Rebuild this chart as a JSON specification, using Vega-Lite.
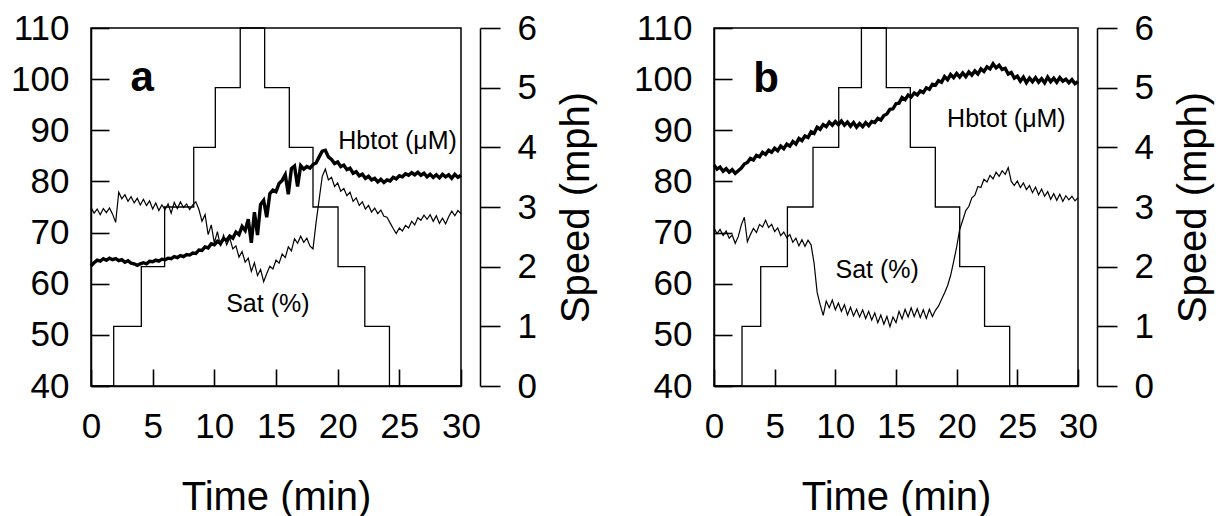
{
 "$schema": "https://vega.github.io/schema/vega-lite/v6.json",
 "padding": {"left": 9, "top": 10, "right": 5, "bottom": 5},
 "background": "white",
 "config": {
  "font": "Liberation Sans",
  "view": {"stroke": "black", "strokeWidth": 1.5},
  "axis": {"grid": false, "zindex": 1, "domainColor": "black", "tickColor": "black", "labelColor": "black", "titleColor": "black", "labelFontSize": 35, "titleFontSize": 40, "titleFontWeight": "normal", "domainWidth": 1.5, "tickWidth": 1.6, "labelFont": "Liberation Sans", "titleFont": "Liberation Sans", "labelFlush": false, "labelOverlap": false},
  "concat": {"spacing": 34}
 },
 "datasets": {
  "traces": [
   {"p":"a","t":0,"hb":63.5,"sat":74.9},{"p":"a","t":0.25,"hb":64.1,"sat":73.8},{"p":"a","t":0.5,"hb":64.6,"sat":74.6},{"p":"a","t":0.75,"hb":64.4,"sat":73.5},
   {"p":"a","t":1,"hb":64.9,"sat":74.7},{"p":"a","t":1.25,"hb":64.6,"sat":73.9},{"p":"a","t":1.5,"hb":65.0,"sat":74.8},{"p":"a","t":1.75,"hb":64.7,"sat":73.6},
   {"p":"a","t":2,"hb":64.9,"sat":72.0},{"p":"a","t":2.25,"hb":64.5,"sat":77.9},{"p":"a","t":2.5,"hb":64.7,"sat":76.6},{"p":"a","t":2.75,"hb":64.2,"sat":77.4},
   {"p":"a","t":3,"hb":64.5,"sat":76.1},{"p":"a","t":3.25,"hb":64.0,"sat":77.0},{"p":"a","t":3.5,"hb":63.9,"sat":75.8},{"p":"a","t":3.75,"hb":63.6,"sat":76.7},
   {"p":"a","t":4,"hb":63.9,"sat":75.4},{"p":"a","t":4.25,"hb":64.1,"sat":76.5},{"p":"a","t":4.5,"hb":63.9,"sat":75.3},{"p":"a","t":4.75,"hb":64.4,"sat":76.2},
   {"p":"a","t":5,"hb":64.3,"sat":74.6},{"p":"a","t":5.25,"hb":64.6,"sat":75.8},{"p":"a","t":5.5,"hb":64.4,"sat":74.3},{"p":"a","t":5.75,"hb":64.8,"sat":75.4},
   {"p":"a","t":6,"hb":64.7,"sat":74.5},{"p":"a","t":6.25,"hb":65.0,"sat":75.6},{"p":"a","t":6.5,"hb":64.9,"sat":73.8},{"p":"a","t":6.75,"hb":65.3,"sat":75.9},
   {"p":"a","t":7,"hb":65.1,"sat":74.7},{"p":"a","t":7.25,"hb":65.5,"sat":76.0},{"p":"a","t":7.5,"hb":65.3,"sat":74.9},{"p":"a","t":7.75,"hb":65.7,"sat":75.6},
   {"p":"a","t":8,"hb":65.6,"sat":74.5},{"p":"a","t":8.25,"hb":66.0,"sat":75.4},{"p":"a","t":8.5,"hb":65.9,"sat":76.0},{"p":"a","t":8.75,"hb":66.6,"sat":74.5},
   {"p":"a","t":9,"hb":66.5,"sat":72.2},{"p":"a","t":9.25,"hb":67.2,"sat":73.5},{"p":"a","t":9.5,"hb":67.0,"sat":69.6},{"p":"a","t":9.75,"hb":67.8,"sat":71.5},
   {"p":"a","t":10,"hb":67.6,"sat":68.0},{"p":"a","t":10.25,"hb":68.3,"sat":70.2},{"p":"a","t":10.5,"hb":67.9,"sat":67.3},{"p":"a","t":10.75,"hb":68.8,"sat":69.5},
   {"p":"a","t":11,"hb":68.5,"sat":67.6},{"p":"a","t":11.25,"hb":69.3,"sat":68.9},{"p":"a","t":11.5,"hb":68.9,"sat":66.8},{"p":"a","t":11.75,"hb":70.1,"sat":67.4},
   {"p":"a","t":12,"hb":69.6,"sat":65.2},{"p":"a","t":12.25,"hb":71.2,"sat":66.3},{"p":"a","t":12.5,"hb":70.4,"sat":64.2},{"p":"a","t":12.75,"hb":72.6,"sat":65.0},
   {"p":"a","t":13,"hb":68.0,"sat":62.4},{"p":"a","t":13.25,"hb":74.0,"sat":64.1},{"p":"a","t":13.5,"hb":69.5,"sat":61.6},{"p":"a","t":13.75,"hb":75.5,"sat":62.8},
   {"p":"a","t":14,"hb":76.3,"sat":60.4},{"p":"a","t":14.25,"hb":73.0,"sat":62.0},{"p":"a","t":14.5,"hb":77.6,"sat":63.4},{"p":"a","t":14.75,"hb":78.3,"sat":62.9},
   {"p":"a","t":15,"hb":78.0,"sat":64.6},{"p":"a","t":15.25,"hb":79.6,"sat":64.0},{"p":"a","t":15.5,"hb":80.2,"sat":65.8},{"p":"a","t":15.75,"hb":81.3,"sat":65.1},
   {"p":"a","t":16,"hb":77.5,"sat":67.2},{"p":"a","t":16.25,"hb":82.5,"sat":66.4},{"p":"a","t":16.5,"hb":83.0,"sat":68.8},{"p":"a","t":16.75,"hb":79.0,"sat":67.9},
   {"p":"a","t":17,"hb":83.1,"sat":69.3},{"p":"a","t":17.25,"hb":82.4,"sat":68.1},{"p":"a","t":17.5,"hb":82.9,"sat":68.9},{"p":"a","t":17.75,"hb":82.6,"sat":67.4},
   {"p":"a","t":18,"hb":83.3,"sat":66.8},{"p":"a","t":18.25,"hb":83.6,"sat":72.0},{"p":"a","t":18.5,"hb":84.8,"sat":76.5},{"p":"a","t":18.75,"hb":85.9,"sat":81.0},
   {"p":"a","t":19,"hb":86.1,"sat":82.4},{"p":"a","t":19.25,"hb":84.8,"sat":80.3},{"p":"a","t":19.5,"hb":84.3,"sat":80.8},{"p":"a","t":19.75,"hb":83.5,"sat":79.0},
   {"p":"a","t":20,"hb":83.8,"sat":79.7},{"p":"a","t":20.25,"hb":82.9,"sat":78.1},{"p":"a","t":20.5,"hb":83.2,"sat":78.6},{"p":"a","t":20.75,"hb":82.3,"sat":77.2},
   {"p":"a","t":21,"hb":82.6,"sat":77.9},{"p":"a","t":21.25,"hb":81.6,"sat":76.1},{"p":"a","t":21.5,"hb":81.9,"sat":76.8},{"p":"a","t":21.75,"hb":81.1,"sat":75.3},
   {"p":"a","t":22,"hb":81.4,"sat":76.0},{"p":"a","t":22.25,"hb":80.6,"sat":74.6},{"p":"a","t":22.5,"hb":81.0,"sat":75.3},{"p":"a","t":22.75,"hb":80.3,"sat":74.0},
   {"p":"a","t":23,"hb":80.6,"sat":74.8},{"p":"a","t":23.25,"hb":79.9,"sat":73.7},{"p":"a","t":23.5,"hb":80.4,"sat":74.4},{"p":"a","t":23.75,"hb":79.8,"sat":73.2},
   {"p":"a","t":24,"hb":80.3,"sat":73.0},{"p":"a","t":24.25,"hb":80.1,"sat":71.9},{"p":"a","t":24.5,"hb":80.8,"sat":70.8},{"p":"a","t":24.75,"hb":80.5,"sat":69.8},
   {"p":"a","t":25,"hb":81.1,"sat":70.9},{"p":"a","t":25.25,"hb":80.9,"sat":70.3},{"p":"a","t":25.5,"hb":81.5,"sat":71.4},{"p":"a","t":25.75,"hb":81.2,"sat":70.9},
   {"p":"a","t":26,"hb":81.7,"sat":72.2},{"p":"a","t":26.25,"hb":81.3,"sat":71.5},{"p":"a","t":26.5,"hb":81.8,"sat":72.9},{"p":"a","t":26.75,"hb":81.2,"sat":72.4},
   {"p":"a","t":27,"hb":81.6,"sat":73.4},{"p":"a","t":27.25,"hb":80.9,"sat":72.6},{"p":"a","t":27.5,"hb":81.4,"sat":73.5},{"p":"a","t":27.75,"hb":80.8,"sat":72.2},
   {"p":"a","t":28,"hb":81.3,"sat":73.3},{"p":"a","t":28.25,"hb":80.7,"sat":71.8},{"p":"a","t":28.5,"hb":81.4,"sat":72.8},{"p":"a","t":28.75,"hb":80.9,"sat":71.7},
   {"p":"a","t":29,"hb":81.3,"sat":73.1},{"p":"a","t":29.25,"hb":80.6,"sat":74.2},{"p":"a","t":29.5,"hb":81.4,"sat":73.3},{"p":"a","t":29.75,"hb":80.8,"sat":74.3},
   {"p":"a","t":30,"hb":81.2,"sat":73.7},
   {"p":"b","t":0,"hb":83.2,"sat":70.9},{"p":"b","t":0.25,"hb":82.4,"sat":69.8},{"p":"b","t":0.5,"hb":82.8,"sat":70.6},{"p":"b","t":0.75,"hb":82.0,"sat":69.4},
   {"p":"b","t":1,"hb":82.5,"sat":70.3},{"p":"b","t":1.25,"hb":81.8,"sat":68.9},{"p":"b","t":1.5,"hb":82.3,"sat":69.5},{"p":"b","t":1.75,"hb":81.6,"sat":67.9},
   {"p":"b","t":2,"hb":82.1,"sat":69.2},{"p":"b","t":2.25,"hb":82.6,"sat":71.5},{"p":"b","t":2.5,"hb":83.4,"sat":73.0},{"p":"b","t":2.75,"hb":83.7,"sat":68.2},
   {"p":"b","t":3,"hb":84.5,"sat":69.6},{"p":"b","t":3.25,"hb":84.2,"sat":70.8},{"p":"b","t":3.5,"hb":85.1,"sat":70.0},{"p":"b","t":3.75,"hb":84.8,"sat":71.6},
   {"p":"b","t":4,"hb":85.7,"sat":71.1},{"p":"b","t":4.25,"hb":85.3,"sat":72.4},{"p":"b","t":4.5,"hb":86.1,"sat":71.0},{"p":"b","t":4.75,"hb":85.7,"sat":71.6},
   {"p":"b","t":5,"hb":86.5,"sat":70.2},{"p":"b","t":5.25,"hb":86.0,"sat":70.9},{"p":"b","t":5.5,"hb":86.9,"sat":69.4},{"p":"b","t":5.75,"hb":86.4,"sat":70.1},
   {"p":"b","t":6,"hb":87.3,"sat":69.0},{"p":"b","t":6.25,"hb":86.9,"sat":69.6},{"p":"b","t":6.5,"hb":87.8,"sat":68.1},{"p":"b","t":6.75,"hb":87.3,"sat":68.9},
   {"p":"b","t":7,"hb":88.4,"sat":67.4},{"p":"b","t":7.25,"hb":88.0,"sat":68.6},{"p":"b","t":7.5,"hb":88.9,"sat":67.3},{"p":"b","t":7.75,"hb":88.6,"sat":68.5},
   {"p":"b","t":8,"hb":89.7,"sat":67.6},{"p":"b","t":8.25,"hb":89.4,"sat":64.0},{"p":"b","t":8.5,"hb":90.6,"sat":58.3},{"p":"b","t":8.75,"hb":90.2,"sat":55.9},
   {"p":"b","t":9,"hb":91.1,"sat":53.8},{"p":"b","t":9.25,"hb":90.7,"sat":56.6},{"p":"b","t":9.5,"hb":91.6,"sat":55.3},{"p":"b","t":9.75,"hb":91.0,"sat":56.8},
   {"p":"b","t":10,"hb":91.7,"sat":54.9},{"p":"b","t":10.25,"hb":91.1,"sat":56.2},{"p":"b","t":10.5,"hb":91.8,"sat":54.6},{"p":"b","t":10.75,"hb":91.0,"sat":55.9},
   {"p":"b","t":11,"hb":91.6,"sat":53.9},{"p":"b","t":11.25,"hb":90.8,"sat":55.4},{"p":"b","t":11.5,"hb":91.5,"sat":53.7},{"p":"b","t":11.75,"hb":90.6,"sat":55.0},
   {"p":"b","t":12,"hb":91.3,"sat":53.5},{"p":"b","t":12.25,"hb":90.7,"sat":54.9},{"p":"b","t":12.5,"hb":91.5,"sat":53.2},{"p":"b","t":12.75,"hb":90.9,"sat":54.6},
   {"p":"b","t":13,"hb":91.7,"sat":52.9},{"p":"b","t":13.25,"hb":91.5,"sat":54.3},{"p":"b","t":13.5,"hb":92.3,"sat":52.4},{"p":"b","t":13.75,"hb":92.0,"sat":53.9},
   {"p":"b","t":14,"hb":92.9,"sat":52.1},{"p":"b","t":14.25,"hb":93.2,"sat":53.6},{"p":"b","t":14.5,"hb":94.1,"sat":51.6},{"p":"b","t":14.75,"hb":94.2,"sat":53.5},
   {"p":"b","t":15,"hb":95.2,"sat":52.4},{"p":"b","t":15.25,"hb":95.3,"sat":54.6},{"p":"b","t":15.5,"hb":96.4,"sat":53.1},{"p":"b","t":15.75,"hb":96.0,"sat":55.0},
   {"p":"b","t":16,"hb":96.9,"sat":53.5},{"p":"b","t":16.25,"hb":96.5,"sat":55.3},{"p":"b","t":16.5,"hb":97.3,"sat":53.6},{"p":"b","t":16.75,"hb":96.9,"sat":55.1},
   {"p":"b","t":17,"hb":97.7,"sat":53.4},{"p":"b","t":17.25,"hb":97.4,"sat":54.9},{"p":"b","t":17.5,"hb":98.3,"sat":53.2},{"p":"b","t":17.75,"hb":98.0,"sat":55.0},
   {"p":"b","t":18,"hb":99.0,"sat":53.6},{"p":"b","t":18.25,"hb":98.8,"sat":54.8},{"p":"b","t":18.5,"hb":99.7,"sat":55.6},{"p":"b","t":18.75,"hb":99.4,"sat":56.9},
   {"p":"b","t":19,"hb":100.5,"sat":58.2},{"p":"b","t":19.25,"hb":99.9,"sat":59.6},{"p":"b","t":19.5,"hb":100.9,"sat":61.6},{"p":"b","t":19.75,"hb":100.3,"sat":64.3},
   {"p":"b","t":20,"hb":101.1,"sat":67.2},{"p":"b","t":20.25,"hb":100.4,"sat":70.6},{"p":"b","t":20.5,"hb":101.2,"sat":72.4},{"p":"b","t":20.75,"hb":100.5,"sat":74.3},
   {"p":"b","t":21,"hb":101.4,"sat":75.1},{"p":"b","t":21.25,"hb":100.8,"sat":76.8},{"p":"b","t":21.5,"hb":101.6,"sat":77.3},{"p":"b","t":21.75,"hb":101.0,"sat":79.0},
   {"p":"b","t":22,"hb":102.0,"sat":78.8},{"p":"b","t":22.25,"hb":101.5,"sat":80.4},{"p":"b","t":22.5,"hb":102.4,"sat":79.9},{"p":"b","t":22.75,"hb":102.0,"sat":81.2},
   {"p":"b","t":23,"hb":103.0,"sat":80.5},{"p":"b","t":23.25,"hb":102.2,"sat":81.8},{"p":"b","t":23.5,"hb":102.7,"sat":81.0},{"p":"b","t":23.75,"hb":101.9,"sat":82.1},
   {"p":"b","t":24,"hb":102.1,"sat":81.4},{"p":"b","t":24.25,"hb":101.0,"sat":82.7},{"p":"b","t":24.5,"hb":101.3,"sat":80.0},{"p":"b","t":24.75,"hb":100.2,"sat":79.2},
   {"p":"b","t":25,"hb":100.6,"sat":80.1},{"p":"b","t":25.25,"hb":99.6,"sat":78.8},{"p":"b","t":25.5,"hb":100.4,"sat":79.7},{"p":"b","t":25.75,"hb":99.3,"sat":78.4},
   {"p":"b","t":26,"hb":100.2,"sat":79.2},{"p":"b","t":26.25,"hb":99.5,"sat":77.8},{"p":"b","t":26.5,"hb":100.3,"sat":78.9},{"p":"b","t":26.75,"hb":99.4,"sat":77.4},
   {"p":"b","t":27,"hb":100.1,"sat":78.5},{"p":"b","t":27.25,"hb":99.3,"sat":77.1},{"p":"b","t":27.5,"hb":100.4,"sat":78.0},{"p":"b","t":27.75,"hb":99.5,"sat":76.5},
   {"p":"b","t":28,"hb":100.2,"sat":77.6},{"p":"b","t":28.25,"hb":99.4,"sat":76.3},{"p":"b","t":28.5,"hb":100.3,"sat":77.5},{"p":"b","t":28.75,"hb":99.6,"sat":76.1},
   {"p":"b","t":29,"hb":100.0,"sat":77.2},{"p":"b","t":29.25,"hb":99.3,"sat":76.4},{"p":"b","t":29.5,"hb":99.9,"sat":77.1},{"p":"b","t":29.75,"hb":99.1,"sat":76.2},
   {"p":"b","t":30,"hb":99.5,"sat":76.8}
  ],
  "speed": [
   {"p":"a","t":0,"s":0},{"p":"a","t":1.84,"s":1},{"p":"a","t":4.08,"s":2},{"p":"a","t":5.97,"s":3},{"p":"a","t":8.33,"s":4},{"p":"a","t":10.08,"s":5},{"p":"a","t":12.1,"s":6},{"p":"a","t":14.08,"s":5},{"p":"a","t":16.08,"s":4},{"p":"a","t":18.0,"s":3},{"p":"a","t":20.03,"s":2},{"p":"a","t":22.2,"s":1},{"p":"a","t":24.2,"s":0},{"p":"a","t":30,"s":0},
   {"p":"b","t":0,"s":0},{"p":"b","t":2.31,"s":1},{"p":"b","t":3.85,"s":2},{"p":"b","t":6.05,"s":3},{"p":"b","t":8.16,"s":4},{"p":"b","t":10.28,"s":5},{"p":"b","t":12.15,"s":6},{"p":"b","t":14.2,"s":5},{"p":"b","t":16.18,"s":4},{"p":"b","t":18.24,"s":3},{"p":"b","t":20.25,"s":2},{"p":"b","t":22.3,"s":1},{"p":"b","t":24.37,"s":0},{"p":"b","t":30,"s":0}
  ],
  "labels": [
   {"p":"a","kind":"panel","label":"a","t":4.14,"v":97.7},
   {"p":"a","kind":"series","label":"Hbtot (μM)","t":24.86,"v":87.9},
   {"p":"a","kind":"series","label":"Sat (%)","t":14.34,"v":56.0},
   {"p":"b","kind":"panel","label":"b","t":4.29,"v":97.5},
   {"p":"b","kind":"series","label":"Hbtot (μM)","t":24.1,"v":92.2},
   {"p":"b","kind":"series","label":"Sat (%)","t":13.45,"v":62.6}
  ]
 },
 "hconcat": [
  {
   "width": 370, "height": 358,
   "encoding": {"x": {"field": "t", "type": "quantitative", "scale": {"domain": [0, 30], "nice": false, "zero": false}, "axis": {"values": [0,5,10,15,20,25,30], "tickSize": -17, "labelPadding": 40, "title": "Time (min)", "titlePadding": 33}}},
   "layer": [
    {"data": {"name": "traces"}, "transform": [{"filter": "datum.p === 'a'"}], "mark": {"type": "line", "color": "black", "strokeWidth": 3.4}, "encoding": {"y": {"field": "hb", "type": "quantitative", "scale": {"domain": [40, 110], "nice": false, "zero": false}, "axis": {"orient": "left", "values": [40,50,60,70,80,90,100,110], "tickSize": -18, "labelPadding": 40, "title": null}}}},
    {"data": {"name": "traces"}, "transform": [{"filter": "datum.p === 'a'"}], "mark": {"type": "line", "color": "black", "strokeWidth": 1.2}, "encoding": {"y": {"field": "sat", "type": "quantitative", "scale": {"domain": [40, 110], "nice": false, "zero": false}, "axis": null}}},
    {"data": {"name": "labels"}, "transform": [{"filter": "datum.p === 'a' && datum.kind === 'panel'"}], "mark": {"type": "text", "font": "Liberation Sans", "fontSize": 42, "fontWeight": "bold", "align": "center", "baseline": "alphabetic", "color": "black"}, "encoding": {"y": {"field": "v", "type": "quantitative", "scale": {"domain": [40, 110], "nice": false, "zero": false}, "axis": null}, "text": {"field": "label"}}},
    {"data": {"name": "labels"}, "transform": [{"filter": "datum.p === 'a' && datum.kind === 'series'"}], "mark": {"type": "text", "font": "Liberation Sans", "fontSize": 25, "align": "center", "baseline": "middle", "color": "black"}, "encoding": {"y": {"field": "v", "type": "quantitative", "scale": {"domain": [40, 110], "nice": false, "zero": false}, "axis": null}, "text": {"field": "label"}}},
    {"data": {"name": "speed"}, "transform": [{"filter": "datum.p === 'a'"}], "mark": {"type": "line", "interpolate": "step-after", "color": "black", "strokeWidth": 1.3}, "encoding": {"y": {"field": "s", "type": "quantitative", "scale": {"domain": [0, 6], "nice": false, "zero": false}, "axis": {"orient": "right", "offset": 19, "values": [0,1,2,3,4,5,6], "tickSize": 20, "labelPadding": 17, "title": "Speed (mph)", "titleAngle": 270, "titleBaseline": "top", "titlePadding": 20}}}}
   ],
   "resolve": {"scale": {"y": "independent"}}
  },
  {
   "width": 364, "height": 358,
   "encoding": {"x": {"field": "t", "type": "quantitative", "scale": {"domain": [0, 30], "nice": false, "zero": false}, "axis": {"values": [0,5,10,15,20,25,30], "tickSize": -17, "labelPadding": 40, "title": "Time (min)", "titlePadding": 33}}},
   "layer": [
    {"data": {"name": "traces"}, "transform": [{"filter": "datum.p === 'b'"}], "mark": {"type": "line", "color": "black", "strokeWidth": 3.4}, "encoding": {"y": {"field": "hb", "type": "quantitative", "scale": {"domain": [40, 110], "nice": false, "zero": false}, "axis": {"orient": "left", "values": [40,50,60,70,80,90,100,110], "tickSize": -18, "labelPadding": 40, "title": null}}}},
    {"data": {"name": "traces"}, "transform": [{"filter": "datum.p === 'b'"}], "mark": {"type": "line", "color": "black", "strokeWidth": 1.2}, "encoding": {"y": {"field": "sat", "type": "quantitative", "scale": {"domain": [40, 110], "nice": false, "zero": false}, "axis": null}}},
    {"data": {"name": "labels"}, "transform": [{"filter": "datum.p === 'b' && datum.kind === 'panel'"}], "mark": {"type": "text", "font": "Liberation Sans", "fontSize": 42, "fontWeight": "bold", "align": "center", "baseline": "alphabetic", "color": "black"}, "encoding": {"y": {"field": "v", "type": "quantitative", "scale": {"domain": [40, 110], "nice": false, "zero": false}, "axis": null}, "text": {"field": "label"}}},
    {"data": {"name": "labels"}, "transform": [{"filter": "datum.p === 'b' && datum.kind === 'series'"}], "mark": {"type": "text", "font": "Liberation Sans", "fontSize": 25, "align": "center", "baseline": "middle", "color": "black"}, "encoding": {"y": {"field": "v", "type": "quantitative", "scale": {"domain": [40, 110], "nice": false, "zero": false}, "axis": null}, "text": {"field": "label"}}},
    {"data": {"name": "speed"}, "transform": [{"filter": "datum.p === 'b'"}], "mark": {"type": "line", "interpolate": "step-after", "color": "black", "strokeWidth": 1.3}, "encoding": {"y": {"field": "s", "type": "quantitative", "scale": {"domain": [0, 6], "nice": false, "zero": false}, "axis": {"orient": "right", "offset": 19, "values": [0,1,2,3,4,5,6], "tickSize": 20, "labelPadding": 17, "title": "Speed (mph)", "titleAngle": 270, "titleBaseline": "top", "titlePadding": 20}}}}
   ],
   "resolve": {"scale": {"y": "independent"}}
  }
 ]
}
